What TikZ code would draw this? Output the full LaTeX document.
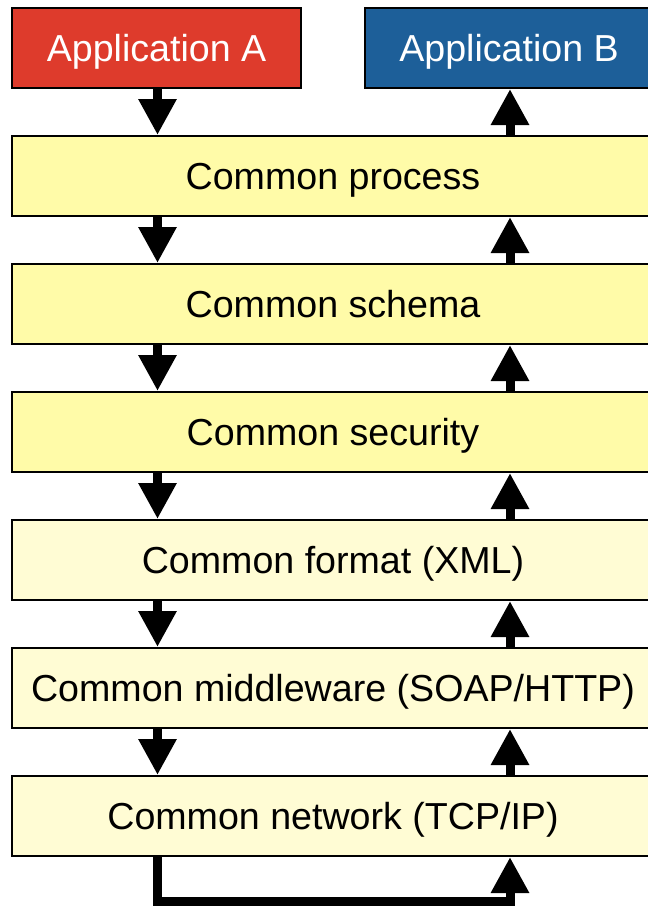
\documentclass[tikz,border=0pt]{standalone}
\usepackage{fontspec}
\setmainfont{Liberation Sans}
\usetikzlibrary{arrows.meta}
\definecolor{appred}{HTML}{DE3B2C}
\definecolor{appblue}{HTML}{1D5F99}
\definecolor{layerdeep}{HTML}{FFFBA8}
\definecolor{layerpale}{HTML}{FFFCD4}
\tikzset{
  boxtext/.style={font=\fontsize{28.2}{34}\selectfont, text height=20.2pt, text depth=0pt},
  layerbox/.style={boxtext, draw=black, line width=1.5pt, minimum width=481.5pt, minimum height=60pt,
    inner sep=0pt, text=black},
  appbox/.style={boxtext, draw=black, line width=1.5pt, minimum width=216.5pt, minimum height=60pt,
    inner sep=0pt, text=white},
  flow/.style={line width=6.75pt, line join=miter, -{Triangle[width=27pt,length=27pt]}}
}
\begin{document}
\begin{tikzpicture}[x=0.75pt, y=-0.75pt]
  \useasboundingbox (0,0) rectangle (647,906);
  % application boxes
  \node[appbox, fill=appred]  (appA) at (156.5,48) {Application A};
  \node[appbox, fill=appblue] (appB) at (509,48)   {Application B};
  % protocol layers
  \node[layerbox, fill=layerdeep] (proc) at (333,176) {Common process};
  \node[layerbox, fill=layerdeep] (sch)  at (333,304) {Common schema};
  \node[layerbox, fill=layerdeep] (sec)  at (333,432) {Common security};
  \node[layerbox, fill=layerpale] (fmt)  at (333,560) {Common format (XML)};
  \node[layerbox, fill=layerpale] (mid)  at (333,688) {Common middleware (SOAP/HTTP)};
  \node[layerbox, fill=layerpale] (net)  at (333,816) {Common network (TCP/IP)};
  % columns of the down and up paths
  \coordinate (L) at (157.5,0);
  \coordinate (R) at (510,0);
  \coordinate (bot) at (0,901);
  % down path on the left
  \foreach \a/\b in {appA/proc, proc/sch, sch/sec, sec/fmt, fmt/mid, mid/net}
    \draw[flow] (\a.south -| L) -- (\b.north -| L);
  % up path on the right
  \foreach \a/\b in {net/mid, mid/fmt, fmt/sec, sec/sch, sch/proc, proc/appB}
    \draw[flow] (\a.north -| R) -- (\b.south -| R);
  % loop-back under the network layer
  \draw[flow] (net.south -| L) -- (L |- bot) -- (R |- bot) -- (net.south -| R);
\end{tikzpicture}
\end{document}
